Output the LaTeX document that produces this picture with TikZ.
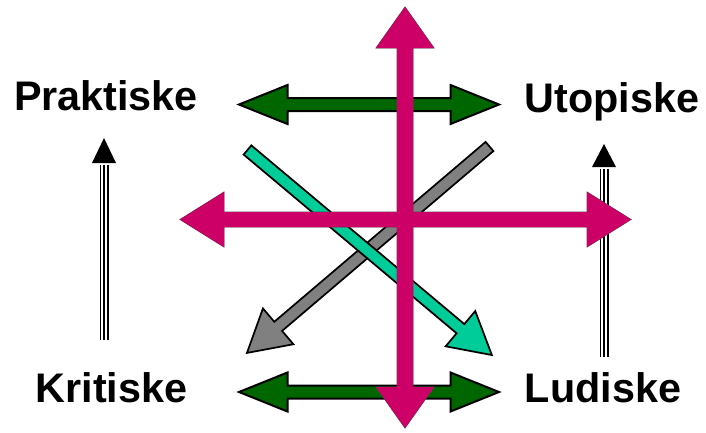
\documentclass[tikz,border=0pt]{standalone}
\usepackage{fontspec}
\setmainfont{Liberation Sans}
\definecolor{mag}{HTML}{CC0066}
\definecolor{dgreen}{HTML}{006600}
\definecolor{teal2}{HTML}{00CC99}
\definecolor{grey2}{HTML}{808080}
% double-headed block arrow centred at origin along x: style, half length, head length, head half width, shaft half width
\newcommand\BlockDbl[5]{%
  \draw[#1] (-#2,0) -- ({-#2+#3},-#4) -- ({-#2+#3},-#5) -- ({#2-#3},-#5) -- ({#2-#3},-#4) -- (#2,0)
    -- ({#2-#3},#4) -- ({#2-#3},#5) -- ({-#2+#3},#5) -- ({-#2+#3},#4) -- cycle;}
% single block arrow from origin to (len,0): style, length, head length, head half width, shaft half width
\newcommand\BlockOne[5]{%
  \draw[#1] (0,-#5) -- ({#2-#3},-#5) -- ({#2-#3},-#4) -- (#2,0) -- ({#2-#3},#4) -- ({#2-#3},#5) -- (0,#5) -- cycle;}
\begin{document}
\begin{tikzpicture}[x=0.75pt,y=-0.75pt,
  lbl/.style={font=\fontsize{31}{36}\selectfont\bfseries, anchor=base, inner sep=0pt},
  magline/.style={fill=mag, draw=black!70, line width=0.6pt, line join=miter},
  magfill/.style={fill=mag, draw=none},
  greenarrow/.style={fill=dgreen, draw=black, line width=1.5pt, line join=miter},
  tealarrow/.style={fill=teal2, draw=black, line width=1.3pt, line join=miter},
  greyarrow/.style={fill=grey2, draw=black, line width=1.3pt, line join=miter},
  tripouter/.style={draw=black, line width=6.75pt},
  tripmid/.style={draw=white, line width=4.5pt},
  tripinner/.style={draw=black, line width=2.2pt},
  trihead/.style={fill=black, draw=none}
]
\useasboundingbox (0,0) rectangle (706,432);
\fill[white] (0,0) rectangle (706,432);

% labels
\node[lbl] (prak) at (106,110) {Praktiske};
\node[lbl] (utop) at (612,112) {Utopiske};
\node[lbl] (krit) at (111.5,402) {Kritiske};
\node[lbl] (ludi) at (603,402) {Ludiske};

% triple-line arrows
\coordinate (lS) at (104,340); \coordinate (lH) at (104,163); \coordinate (lT) at (104,138);
\coordinate (rS) at (604,357); \coordinate (rH) at (604,167); \coordinate (rT) at (604,144);
\foreach \s/\h in {lS/lH, rS/rH}{
  \draw[tripouter] (\s) -- ([yshift=-1.5pt]\h);
  \draw[tripmid] ([yshift=-0.4pt]\s) -- ([yshift=-1.5pt]\h);
  \draw[tripinner] (\s) -- ([yshift=-1.5pt]\h);
}
\fill[trihead] (lT) -- ([xshift=-9pt]lH) -- ([xshift=9pt]lH) -- cycle;
\fill[trihead] (rT) -- ([xshift=-9pt]rH) -- ([xshift=9pt]rH) -- cycle;

% grey diagonal arrow
\coordinate (greyS) at (489.5,146.5);
\begin{scope}[shift={(greyS)}, rotate=-139.6]
  \BlockOne{greyarrow}{318.5}{41}{23.5}{6}
\end{scope}
% teal diagonal arrow
\coordinate (tealS) at (247.5,150);
\begin{scope}[shift={(tealS)}, rotate=-40]
  \BlockOne{tealarrow}{319}{41}{23}{6}
\end{scope}

% green double arrows
\coordinate (gTop) at (369,104.5);
\coordinate (gBot) at (369,392);
\begin{scope}[shift={(gTop)}]
  \BlockDbl{greenarrow}{130}{48.5}{19.5}{6.5}
\end{scope}
\begin{scope}[shift={(gBot)}]
  \BlockDbl{greenarrow}{130}{48.5}{19.5}{6.5}
\end{scope}

% magenta cross
\coordinate (mV) at (405,217.5);
\coordinate (mH) at (405.5,219.5);
\begin{scope}[shift={(mV)}, rotate=90]
  \BlockDbl{magline}{210.5}{41}{29}{8}
\end{scope}
\begin{scope}[shift={(mH)}]
  \BlockDbl{magline}{225.5}{44}{27.5}{7.5}
\end{scope}
\begin{scope}[shift={(mV)}, rotate=90]
  \BlockDbl{magfill}{210.5}{41}{29}{8}
\end{scope}
\begin{scope}[shift={(mH)}]
  \BlockDbl{magfill}{225.5}{44}{27.5}{7.5}
\end{scope}
\end{tikzpicture}
\end{document}
